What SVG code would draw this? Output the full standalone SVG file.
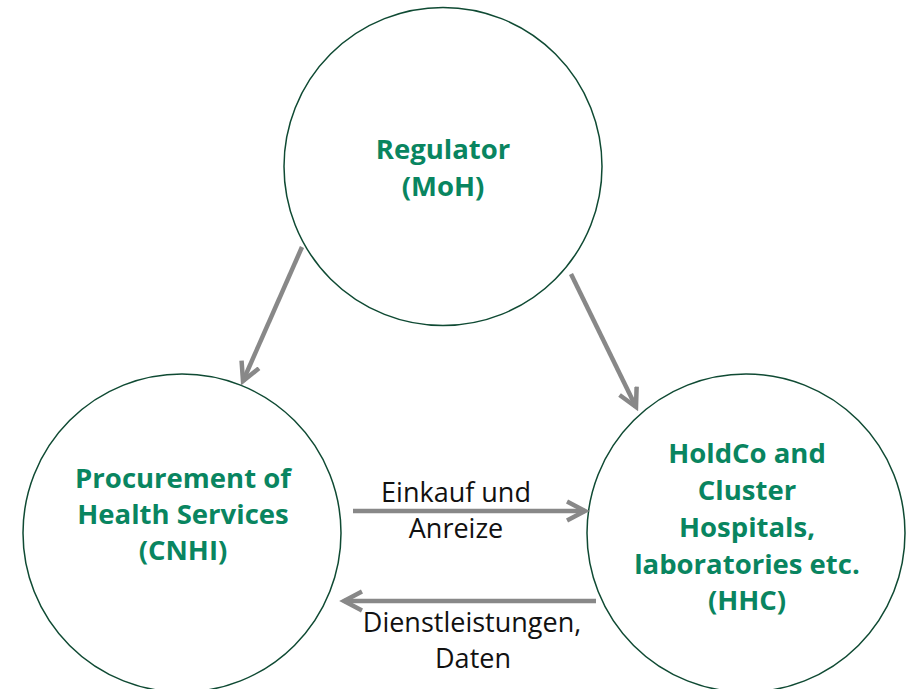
<svg xmlns="http://www.w3.org/2000/svg" width="909" height="689" viewBox="0 0 909 689">
<style>
.node{fill:#fff;stroke:#0f4a33;stroke-width:1.5}
.nt{font-family:"Open Sans","Liberation Sans",sans-serif;font-weight:bold;font-size:27.5px;fill:#098560;text-anchor:middle}
.lt{font-family:"Open Sans","Liberation Sans",sans-serif;font-size:27px;fill:#111;text-anchor:middle}
.conn{stroke:#888;stroke-width:4.5;fill:none;marker-end:url(#ah)}
</style>
<defs>
<marker id="ah" viewBox="0 0 24 24" refX="19" refY="12" markerWidth="24" markerHeight="24" markerUnits="userSpaceOnUse" orient="auto">
<path d="M1,2.5 L19,12 L1,21.5" fill="none" stroke="#888" stroke-width="4.5" stroke-linecap="butt" stroke-linejoin="miter"/>
</marker>
</defs>
<rect width="909" height="689" fill="#fff"/>
<g id="regulator">
<circle class="node" cx="443" cy="166.5" r="159"/>
<text class="nt" x="443" y="159">Regulator</text>
<text class="nt" x="443" y="196">(MoH)</text>
</g>
<g id="cnhi">
<circle class="node" cx="182" cy="533" r="159"/>
<text class="nt" x="183" y="488">Procurement of</text>
<text class="nt" x="183" y="524">Health Services</text>
<text class="nt" x="183" y="560">(CNHI)</text>
</g>
<g id="hhc">
<circle class="node" cx="746" cy="533" r="159"/>
<text class="nt" x="747" y="463">HoldCo and</text>
<text class="nt" x="747" y="500">Cluster</text>
<text class="nt" x="747" y="537">Hospitals,</text>
<text class="nt" x="747" y="574">laboratories etc.</text>
<text class="nt" x="747" y="610">(HHC)</text>
</g>
<g id="connectors">
<line class="conn" x1="302" y1="247" x2="243" y2="381"/>
<line class="conn" x1="571" y1="274" x2="636" y2="407"/>
<line class="conn" x1="353" y1="511" x2="585" y2="511"/>
<line class="conn" x1="596" y1="601" x2="344" y2="601"/>
<text class="lt" x="456" y="502">Einkauf und</text>
<text class="lt" x="456" y="538">Anreize</text>
<text class="lt" x="472" y="632">Dienstleistungen,</text>
<text class="lt" x="473" y="668">Daten</text>
</g>
</svg>
